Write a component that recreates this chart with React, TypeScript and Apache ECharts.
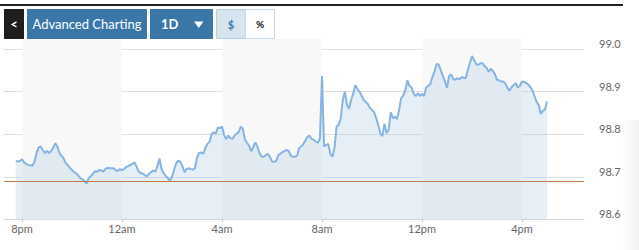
import React, { useEffect, useRef } from "react";
import * as echarts from "echarts";

// minutes relative to 8pm; first sample at 7:45pm, one sample every 5 minutes
const START_MIN = -15;
const STEP_MIN = 5;
const PRICES: number[] = [
  98.737, 98.736, 98.737, 98.741, 98.734, 98.730, 98.728, 98.727, 98.726, 98.736,
  98.756, 98.769, 98.771, 98.763, 98.756, 98.761, 98.756, 98.761, 98.768, 98.779,
  98.771, 98.756, 98.749, 98.743, 98.732, 98.727, 98.721, 98.716, 98.711, 98.708,
  98.703, 98.697, 98.694, 98.690, 98.684, 98.697, 98.701, 98.707, 98.713, 98.712,
  98.716, 98.715, 98.712, 98.718, 98.721, 98.720, 98.720, 98.720, 98.715, 98.714,
  98.718, 98.716, 98.718, 98.723, 98.725, 98.728, 98.730, 98.734, 98.724, 98.712,
  98.709, 98.707, 98.704, 98.701, 98.707, 98.711, 98.715, 98.712, 98.725, 98.743,
  98.718, 98.709, 98.702, 98.697, 98.690, 98.700, 98.716, 98.732, 98.738, 98.735,
  98.725, 98.711, 98.718, 98.720, 98.718, 98.717, 98.720, 98.744, 98.756, 98.757,
  98.754, 98.768, 98.777, 98.782, 98.800, 98.805, 98.801, 98.816, 98.814, 98.818,
  98.798, 98.789, 98.797, 98.791, 98.789, 98.797, 98.801, 98.805, 98.818, 98.813,
  98.787, 98.780, 98.773, 98.760, 98.770, 98.781, 98.771, 98.756, 98.747, 98.747,
  98.751, 98.754, 98.747, 98.736, 98.735, 98.737, 98.751, 98.754, 98.758, 98.761,
  98.763, 98.761, 98.750, 98.747, 98.747, 98.749, 98.767, 98.771, 98.777, 98.785,
  98.794, 98.797, 98.789, 98.787, 98.783, 98.780, 98.790, 98.937, 98.771, 98.775,
  98.777, 98.754, 98.747, 98.768, 98.818, 98.822, 98.838, 98.881, 98.900, 98.869,
  98.860, 98.881, 98.896, 98.915, 98.907, 98.900, 98.891, 98.881, 98.876, 98.871,
  98.862, 98.857, 98.852, 98.838, 98.822, 98.801, 98.796, 98.824, 98.803, 98.810,
  98.852, 98.838, 98.841, 98.836, 98.857, 98.885, 98.891, 98.904, 98.927, 98.914,
  98.910, 98.895, 98.890, 98.896, 98.890, 98.895, 98.890, 98.910, 98.914, 98.918,
  98.935, 98.947, 98.965, 98.964, 98.951, 98.937, 98.925, 98.909, 98.937, 98.941,
  98.930, 98.928, 98.932, 98.929, 98.935, 98.932, 98.932, 98.951, 98.968, 98.984,
  98.975, 98.965, 98.963, 98.967, 98.967, 98.961, 98.956, 98.947, 98.954, 98.949,
  98.941, 98.928, 98.927, 98.924, 98.924, 98.920, 98.909, 98.902, 98.911, 98.916,
  98.920, 98.910, 98.914, 98.924, 98.923, 98.920, 98.917, 98.911, 98.903, 98.890,
  98.876, 98.869, 98.848, 98.855, 98.858, 98.877,
];
const PREV_CLOSE = 98.685;

const X_TICKS = [0, 240, 480, 720, 960, 1200];
const X_LABELS = ["8pm", "12am", "4am", "8am", "12pm", "4pm"];
const X_MIN = -43.2;
const X_MAX = 1348.8;
const SHADED_BANDS: [number, number][] = [
  [0, 240],
  [480, 720],
  [960, 1200],
];

const Y_TICKS = [98.6, 98.7, 98.8, 98.9, 99.0];
const Y_MIN = 98.6;
const Y_MAX = 99.024;

const FONT = "Lato, 'Open Sans', sans-serif";
const BLUE = "#3a77a8";

export default function App() {
  const ref = useRef<HTMLDivElement>(null);

  useEffect(() => {
    document.body.style.margin = "0";
    if (!ref.current) return;
    const chart = echarts.init(ref.current, undefined, { renderer: "svg" });
    const data = PRICES.map((v, i) => [START_MIN + i * STEP_MIN, v]);
    const labelMap: Record<number, string> = {};
    X_TICKS.forEach((t, i) => (labelMap[t] = X_LABELS[i]));

    chart.setOption({
      animation: false,
      grid: { left: 4, right: 55, top: 39, bottom: 30.7, containLabel: false },
      xAxis: {
        type: "value",
        min: X_MIN,
        max: X_MAX,
        axisLine: { show: true, lineStyle: { color: "#d9d9d9", width: 1 } },
        axisTick: {
          show: true,
          customValues: X_TICKS,
          length: 3,
          lineStyle: { color: "#cccccc" },
        },
        axisLabel: {
          customValues: X_TICKS,
          formatter: (v: number) => labelMap[Math.round(v)] ?? "",
          color: "#666",
          fontSize: 11,
          fontFamily: FONT,
          margin: 4,
        },
        splitLine: { show: false },
      },
      yAxis: {
        type: "value",
        position: "right",
        min: Y_MIN,
        max: Y_MAX,
        axisLine: { show: false },
        axisTick: { show: false, customValues: Y_TICKS },
        axisLabel: {
          customValues: Y_TICKS,
          formatter: (v: number) => v.toFixed(1),
          color: "#666",
          fontSize: 11,
          fontFamily: FONT,
          margin: 15,
          verticalAlign: "bottom",
          align: "left",
        },
        splitLine: { show: true, lineStyle: { color: "#dedede", width: 1 } },
      },
      series: [
        {
          type: "line",
          data: [],
          z: 0,
          silent: true,
          markArea: {
            silent: true,
            itemStyle: { color: "#f8f8f8", opacity: 1 },
            data: SHADED_BANDS.map(([a, b]) => [{ xAxis: a }, { xAxis: b }]),
          },
        },
        {
          type: "line",
          data,
          z: 3,
          showSymbol: false,
          symbol: "none",
          lineStyle: { color: "#86b4e3", width: 2 },
          areaStyle: { color: "rgba(170,199,220,0.42)", origin: "start" },
          markLine: {
            silent: true,
            symbol: "none",
            label: { show: false },
            lineStyle: { color: "#c8794a", width: 1, type: "solid" },
            data: [{ yAxis: PREV_CLOSE }],
          },
        },
      ],
      graphic: [
        { type: "rect", shape: { x: 0, y: 4, width: 623, height: 2 }, style: { fill: "#222" } },
        {
          type: "rect",
          shape: { x: 622, y: 120, width: 17, height: 130 },
          style: {
            fill: new echarts.graphic.LinearGradient(0, 0, 1, 0, [
              { offset: 0, color: "rgba(0,0,0,0)" },
              { offset: 1, color: "rgba(0,0,0,0.05)" },
            ]),
          },
          silent: true,
        },
        { type: "rect", shape: { x: 4, y: 9, width: 20, height: 30 }, style: { fill: "#1e1e1e" } },
        {
          type: "text",
          x: 14,
          y: 24,
          style: { text: "<", fill: "#fff", font: `bold 13px ${FONT}`, align: "center", verticalAlign: "middle" },
        },
        { type: "rect", shape: { x: 27, y: 9, width: 120, height: 30 }, style: { fill: BLUE } },
        {
          type: "text",
          x: 87,
          y: 24,
          style: { text: "Advanced Charting", fill: "#fff", font: `13px ${FONT}`, align: "center", verticalAlign: "middle" },
        },
        { type: "rect", shape: { x: 150, y: 9, width: 63, height: 30 }, style: { fill: BLUE } },
        {
          type: "text",
          x: 161,
          y: 24,
          style: { text: "1D", fill: "#fff", font: `bold 13px ${FONT}`, align: "left", verticalAlign: "middle" },
        },
        {
          type: "polygon",
          shape: { points: [[194, 21.5], [203.5, 21.5], [198.75, 28]] },
          style: { fill: "#fff" },
        },
        {
          type: "rect",
          shape: { x: 216.5, y: 9.5, width: 29, height: 29 },
          style: { fill: "#d6e4ef", stroke: "#b8cde0", lineWidth: 1 },
        },
        {
          type: "text",
          x: 231,
          y: 24,
          style: { text: "$", fill: BLUE, font: `bold 11px ${FONT}`, align: "center", verticalAlign: "middle" },
        },
        {
          type: "rect",
          shape: { x: 245.5, y: 9.5, width: 29, height: 29 },
          style: { fill: "#ffffff", stroke: "#c9d9e8", lineWidth: 1 },
        },
        {
          type: "text",
          x: 260,
          y: 24,
          style: { text: "%", fill: "#111", font: `bold 10px ${FONT}`, align: "center", verticalAlign: "middle" },
        },
      ],
    });
    return () => chart.dispose();
  }, []);

  return <div ref={ref} style={{ width: 639, height: 250 }} />;
}
